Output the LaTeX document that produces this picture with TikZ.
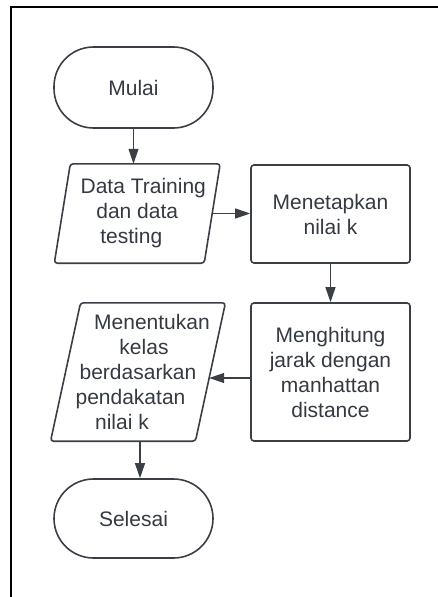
\documentclass[tikz,border=0pt]{standalone}
\usepackage{fontspec}
\setmainfont{Liberation Sans}
\usetikzlibrary{arrows.meta,calc}
\definecolor{linec}{HTML}{3A3F46}
\definecolor{txtc}{HTML}{353A42}
\newcommand\shl[2]{\makebox[0pt]{\hspace*{#1}#2}}
\begin{document}
\begin{tikzpicture}[x=1pt,y=-1pt,
  txt/.style={font=\fontsize{21}{25}\selectfont, text=txtc, align=center, inner sep=0pt},
  term/.style={txt, draw=linec, line width=1.6pt, rounded corners=39.5pt, minimum width=159pt},
  proc/.style={txt, draw=linec, line width=1.6pt, rounded corners=3pt, minimum width=159pt},
  shp/.style={draw=linec, line width=1.6pt, rounded corners=3pt},
  arr/.style={draw=linec, line width=1.1pt, -{Triangle[length=15pt,width=10pt]}}]
\useasboundingbox (0,0) rectangle (438,597);
\draw[line width=1.6pt, black] (438,7) -- (11,7) -- (11,598);
% nodes
\node[term, minimum height=81pt] (mulai) at (133.5,87.5) {Mulai};
\node[txt, minimum width=149.5pt, minimum height=99pt] (dt) at (137.25,213.5)
  {\shl{12pt}{Data Training}\\\shl{0pt}{dan data}\\\shl{-12pt}{testing}};
\draw[shp] ([xshift=8pt]dt.north west) -- ([xshift=8pt]dt.north east)
  -- ([xshift=-8pt]dt.south east) -- ([xshift=-8pt]dt.south west) -- cycle;
\node[proc, minimum height=98pt] (mk) at (330.5,214) {Menetapkan\\nilai k};
\node[proc, minimum height=138pt] (mh) at (330.5,372)
  {Menghitung\\jarak dengan\\manhattan\\distance};
\node[txt, minimum width=144.5pt, minimum height=138pt] (mn) at (138,372)
  {\shl{28pt}{Menentukan}\\\shl{12pt}{kelas}\\\shl{0pt}{berdasarkan}\\\shl{-15pt}{pendakatan}\\\shl{-32pt}{nilai k}};
\draw[shp] ([xshift=15pt]mn.north west) -- ([xshift=15pt]mn.north east)
  -- ([xshift=-15pt]mn.south east) -- ([xshift=-15pt]mn.south west) -- cycle;
\node[term, minimum height=79pt] (sel) at (133.5,518.5) {Selesai};
% connectors
\draw[arr] (mulai.south) -- (mulai.south |- dt.north);
\draw[arr] (dt.east) -- (dt.east -| mk.west);
\draw[arr] (mk.south) -- (mh.north);
\draw[arr] ([yshift=-6pt]mh.west) -- ([xshift=-1.3pt,yshift=-6pt]mn.east);
\draw[arr] ([xshift=2pt]mn.south) -- ([xshift=2pt]mn.south |- sel.north);
\end{tikzpicture}
\end{document}
